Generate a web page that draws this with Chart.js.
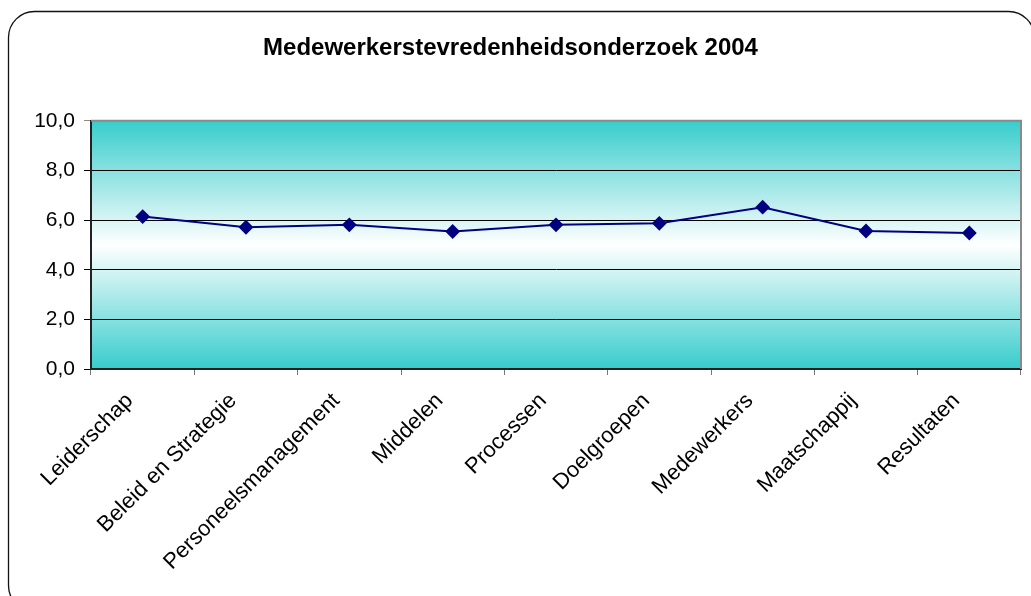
<!DOCTYPE html>
<html>
<head>
<meta charset="utf-8">
<script src="https://cdn.jsdelivr.net/npm/chart.js@4"></script>
<style>
	body { margin: 0; background: #fff; }
	#wrap { width: 1031px; height: 596px; }
</style>
</head>
<body>
<div id="wrap"><canvas id="myChart" width="1031" height="596"></canvas></div>
<script>
const categories = ['Leiderschap', 'Beleid en Strategie', 'Personeelsmanagement', 'Middelen', 'Processen', 'Doelgroepen', 'Medewerkers', 'Maatschappij', 'Resultaten'];
const scores = [6.14, 5.71, 5.81, 5.54, 5.81, 5.87, 6.52, 5.56, 5.48];
const yTicks = [0, 2, 4, 6, 8, 10];

const fontFam = '"Liberation Sans", Arial, sans-serif';

// rounded outer frame + gradient plot background
const frame = {
	id: 'frame',
	beforeDraw(chart) {
		const c = chart.ctx;
		const a = chart.chartArea;
		c.save();
		c.fillStyle = '#fff';
		c.fillRect(0, 0, chart.width, chart.height);
		c.strokeStyle = '#111';
		c.lineWidth = 1.3;
		c.beginPath();
		c.roundRect(8.5, 11.5, 1026, 600, 26);
		c.stroke();
		const g = c.createLinearGradient(0, a.top, 0, a.bottom);
		g.addColorStop(0, '#38CCCC');
		g.addColorStop(0.5, '#FFFFFF');
		g.addColorStop(1, '#38CCCC');
		c.fillStyle = g;
		c.fillRect(a.left, a.top, a.right - a.left, a.bottom - a.top);
		c.restore();
	},
	afterDatasetsDraw(chart) {
		const c = chart.ctx;
		const a = chart.chartArea;
		c.save();
		c.strokeStyle = '#8a8a8a';
		c.lineWidth = 2;
		c.beginPath();
		c.moveTo(a.left, a.top);
		c.lineTo(a.right, a.top);
		c.lineTo(a.right, a.bottom);
		c.stroke();
		c.restore();
	}
};

new Chart(document.getElementById('myChart'), {
	type: 'line',
	data: {
		labels: categories,
		datasets: [{
			data: scores,
			borderColor: '#000080',
			backgroundColor: '#000080',
			borderWidth: 2,
			pointStyle: 'rectRot',
			pointRadius: 6,
			pointHoverRadius: 6,
			fill: false,
			tension: 0
		}]
	},
	options: {
		responsive: false,
		animation: false,
		layout: { padding: { left: 0, right: 10, top: 0, bottom: 0 } },
		plugins: {
			legend: { display: false },
			tooltip: { enabled: false },
			title: {
				display: true,
				text: 'Medewerkerstevredenheidsonderzoek 2004',
				color: '#000',
				font: { family: fontFam, size: 24, weight: 'bold', lineHeight: 1.2 },
				padding: { top: 34, bottom: 58 }
			}
		},
		scales: {
			x: {
				offset: true,
				grid: { offset: true, drawOnChartArea: false, color: '#777', tickLength: 6 },
				border: { color: '#222', width: 2 },
				ticks: {
					color: '#000',
					font: { family: fontFam, size: 22 },
					maxRotation: 45,
					minRotation: 45,
					padding: 13,
					labelOffset: -13
				},
				afterFit(scale) { scale.height = 227; }
			},
			y: {
				min: 0,
				max: 10,
				afterBuildTicks(scale) { scale.ticks = yTicks.map(v => ({ value: v })); },
				grid: {
					color: ctx => (ctx.tick && ctx.tick.value === 10) ? '#8a8a8a' : '#000',
					lineWidth: 1,
					tickLength: 7
				},
				border: { color: '#222', width: 2 },
				ticks: {
					color: '#000',
					font: { family: fontFam, size: 21 },
					padding: 9,
					callback: v => v.toFixed(1).replace('.', ',')
				},
				afterFit(scale) { scale.width = 91; }
			}
		}
	},
	plugins: [frame]
});
</script>
</body>
</html>
